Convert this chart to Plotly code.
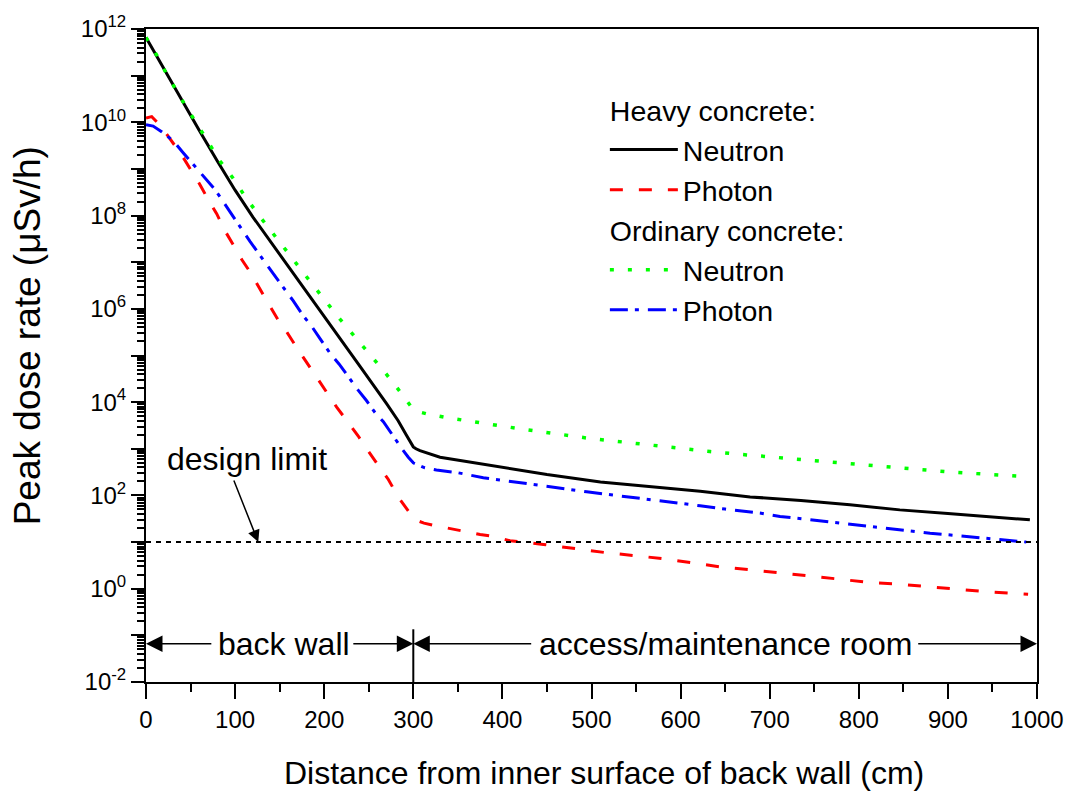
import plotly.graph_objects as go

# ---------------- data ----------------
heavy_neutron_x = [0, 20, 40, 60, 80, 100, 120, 140, 160, 200, 240, 270, 283, 292, 296, 300, 303,
                   307.5, 330, 375, 397, 450, 510, 565, 622, 678, 735, 790, 846, 900, 950, 992]
heavy_neutron_y = [6.6e11, 1.4e11, 3.0e10, 6.6e9, 1.48e9, 3.5e8, 9.3e7, 2.7e7, 7.9e6, 6.8e5,
                   5.9e4, 9.3e3, 4.0e3, 2.0e3, 1.5e3, 1.1e3, 1.0e3, 9.1e2, 6.6e2, 4.8e2, 4.1e2,
                   2.8e2, 1.95e2, 1.55e2, 1.23e2, 93, 78, 63, 49, 41, 35, 30]

heavy_photon_x = [0, 6.4, 15.7, 30.6, 40, 51.3, 60.6, 70.7, 79.3, 88.7, 97.3, 108, 117.5, 128, 136.5,
                  147.8, 157.9, 170.2, 179.2, 192.3, 201.7, 214, 225, 238, 247.6, 260.7, 272, 283,
                  292.6, 300, 305, 312, 322.4, 341, 356, 375, 390, 408.5, 446, 479, 517, 554, 584,
                  622, 644, 682, 713, 747, 781, 813, 842.5, 880, 913.6, 947, 990]
heavy_photon_y = [1.23e10, 1.32e10, 8.7e9, 3.55e9, 2.0e9, 8.9e8, 4.6e8, 2.05e8, 1.1e8, 4.7e7, 2.5e7,
                  1.1e7, 5.9e6, 2.6e6, 1.38e6, 6.0e5, 3.2e5, 1.38e5, 7.6e4, 3.2e4, 1.74e4, 7.8e3,
                  4.1e3, 1.9e3, 1.0e3, 4.5e2, 2.2e2, 93, 51, 33, 28.5, 25.5, 23, 19.5, 17, 14.5,
                  13.2, 10.7, 8.9, 7.4, 5.9, 5.0, 4.3, 3.4, 2.95, 2.5, 2.2, 1.86, 1.58, 1.35, 1.26,
                  1.10, 0.95, 0.85, 0.76]

ordinary_neutron_x = [0, 12, 22.4, 33.7, 45.6, 58, 70.7, 83, 97.3, 111, 125.3, 155, 186, 217.7,
                      251.4, 267.5, 282.5, 297, 305, 317, 336, 356, 416, 495, 573, 633, 674, 733,
                      792, 833, 900, 991]
ordinary_neutron_y = [6.6e11, 2.75e11, 1.15e11, 4.8e10, 2.05e10, 8.7e9, 3.55e9, 1.48e9, 6.5e8,
                      2.6e8, 1.1e8, 2.0e7, 3.5e6, 6.0e5, 1.05e5, 4.5e4, 1.95e4, 8.3e3, 6.3e3,
                      5.5e3, 4.7e3, 4.1e3, 2.75e3, 1.7e3, 1.15e3, 8.7e2, 7.4e2, 5.9e2, 4.8e2,
                      4.1e2, 3.2e2, 2.5e2]

ordinary_photon_x = [0, 8, 17.5, 30.6, 41.9, 56.9, 66.3, 77.5, 88.7, 98, 105.5, 116.7, 126, 135.5,
                     146.7, 156, 165.3, 176.5, 186, 195.3, 206.5, 216.6, 226, 238.3, 247.6, 257,
                     266.4, 279.5, 288.8, 294.4, 300, 313, 326, 348.7, 378.6, 397, 438, 461, 494.6,
                     524, 554, 588, 621.8, 650, 689, 711.6, 752.8, 797.6, 839, 880, 921, 962, 988]
ordinary_photon_y = [8.9e9, 8.3e9, 6.3e9, 4.0e9, 2.2e9, 1.05e9, 6.5e8, 3.6e8, 1.74e8, 9.8e7, 5.8e7,
                     2.8e7, 1.62e7, 8.9e6, 4.5e6, 2.6e6, 1.48e6, 7.1e5, 4.2e5, 2.3e5, 1.12e5, 6.6e4,
                     3.7e4, 1.78e4, 1.07e4, 6.0e3, 3.8e3, 1.62e3, 9.1e2, 6.6e2, 5.0e2, 3.9e2, 3.5e2,
                     3.1e2, 2.4e2, 2.15e2, 1.66e2, 1.45e2, 1.2e2, 1.02e2, 87, 74, 60, 51, 42, 35.5,
                     29, 23.5, 19.5, 15.5, 13.2, 11, 10]

design_limit_x = [0, 1000]
design_limit_y = [10, 10]

wall_boundary_x = [300, 300]
wall_boundary_y = [10 ** -0.87, 1e-2]

x_tick_vals = [0, 100, 200, 300, 400, 500, 600, 700, 800, 900, 1000]
y_exponents = list(range(-2, 13))

FONT = "Liberation Sans, Arial, sans-serif"

fig = go.Figure()

fig.add_trace(go.Scatter(x=heavy_neutron_x, y=heavy_neutron_y, mode="lines", name="Neutron",
                         legendgroup="heavy", legendgrouptitle=dict(text="Heavy concrete:"),
                         line=dict(color="#000000", width=3)))
fig.add_trace(go.Scatter(x=heavy_photon_x, y=heavy_photon_y, mode="lines", name="Photon",
                         legendgroup="heavy",
                         line=dict(color="#ff0000", width=3, dash="13px,16px")))
fig.add_trace(go.Scatter(x=ordinary_neutron_x, y=ordinary_neutron_y, mode="lines", name="Neutron",
                         legendgroup="ordinary", legendgrouptitle=dict(text="Ordinary concrete:"),
                         line=dict(color="#00ff00", width=3.5, dash="4px,14px")))
fig.add_trace(go.Scatter(x=ordinary_photon_x, y=ordinary_photon_y, mode="lines", name="Photon",
                         legendgroup="ordinary",
                         line=dict(color="#0000ff", width=3, dash="18px,7px,4px,9px")))

fig.add_trace(go.Scatter(x=design_limit_x, y=design_limit_y, mode="lines", showlegend=False,
                         line=dict(color="#000000", width=2, dash="5px,5px")))
fig.add_trace(go.Scatter(x=wall_boundary_x, y=wall_boundary_y, mode="lines", showlegend=False,
                         line=dict(color="#000000", width=2), cliponaxis=False))

# annotations (annotation y on a log axis is given as log10 value)
arrow_y = -1.18
ARW = dict(showarrow=True, arrowhead=2, arrowsize=2.2, arrowwidth=1.5, arrowcolor="black")
annos = [
    dict(x=-0.1334, y=0.5296, xref="paper", yref="paper", text="Peak dose rate (\u03bcSv/h)",
         textangle=-90, showarrow=False, font=dict(size=37), xanchor="center", yanchor="middle"),
    dict(x=0.5145, y=-0.1395, xref="paper", yref="paper",
         text="Distance from inner surface of back wall (cm)", showarrow=False,
         font=dict(size=32), xanchor="center", yanchor="middle"),
    dict(x=113, y=2.78, xref="x", yref="y", text="design limit", showarrow=False,
         font=dict(size=32)),
    dict(x=126, y=1, xref="x", yref="y", text="", showarrow=True, ax=-25, ay=-63,
         arrowhead=2, arrowsize=1.6, arrowwidth=1.5, arrowcolor="black"),
    dict(x=155, y=arrow_y, xref="x", yref="y", text="back wall", showarrow=False,
         font=dict(size=32)),
    dict(x=651, y=arrow_y, xref="x", yref="y", text="access/maintenance room", showarrow=False,
         font=dict(size=32)),
    dict(x=0, y=arrow_y, xref="x", yref="y", ax=75, ay=arrow_y, axref="x", ayref="y",
         text="", **ARW),
    dict(x=300, y=arrow_y, xref="x", yref="y", ax=231, ay=arrow_y, axref="x", ayref="y",
         text="", **ARW),
    dict(x=300, y=arrow_y, xref="x", yref="y", ax=434, ay=arrow_y, axref="x", ayref="y",
         text="", **ARW),
    dict(x=1000, y=arrow_y, xref="x", yref="y", ax=865, ay=arrow_y, axref="x", ayref="y",
         text="", **ARW),
]

y_tick_vals = [10.0 ** k for k in y_exponents]
y_tick_text = [f"10<sup>{k}</sup>" if k % 2 == 0 else "" for k in y_exponents]
y_minor_vals = [m * 10.0 ** k for k in y_exponents[:-1] for m in range(2, 10)]

fig.update_layout(
    width=1076, height=798,
    margin=dict(l=146, r=39, t=23, b=116),
    paper_bgcolor="white", plot_bgcolor="white",
    font=dict(family=FONT, color="black", size=24),
    annotations=annos,
    legend=dict(x=0.515, y=0.915, xanchor="left", yanchor="top",
                font=dict(size=28.5), grouptitlefont=dict(size=28.5),
                tracegroupgap=0, bgcolor="rgba(0,0,0,0)", itemwidth=68),
    xaxis=dict(range=[0, 1000], tickvals=x_tick_vals, ticks="outside", ticklen=15,
               tickwidth=2, tickcolor="black", showline=True, linewidth=2, linecolor="black",
               mirror=True, showgrid=False, zeroline=False, tickfont=dict(size=24),
               minor=dict(dtick=50, ticks="outside", ticklen=8, tickwidth=2, tickcolor="black")),
    yaxis=dict(type="log", range=[-2, 12], tickvals=y_tick_vals, ticktext=y_tick_text,
               ticks="outside", ticklen=13, tickwidth=2, tickcolor="black",
               showline=True, linewidth=2, linecolor="black", mirror=True, showgrid=False,
               zeroline=False, tickfont=dict(size=24),
               minor=dict(tickvals=y_minor_vals, ticks="outside", ticklen=7, tickwidth=1.5,
                          tickcolor="black")),
)

fig.write_html("out.html")
